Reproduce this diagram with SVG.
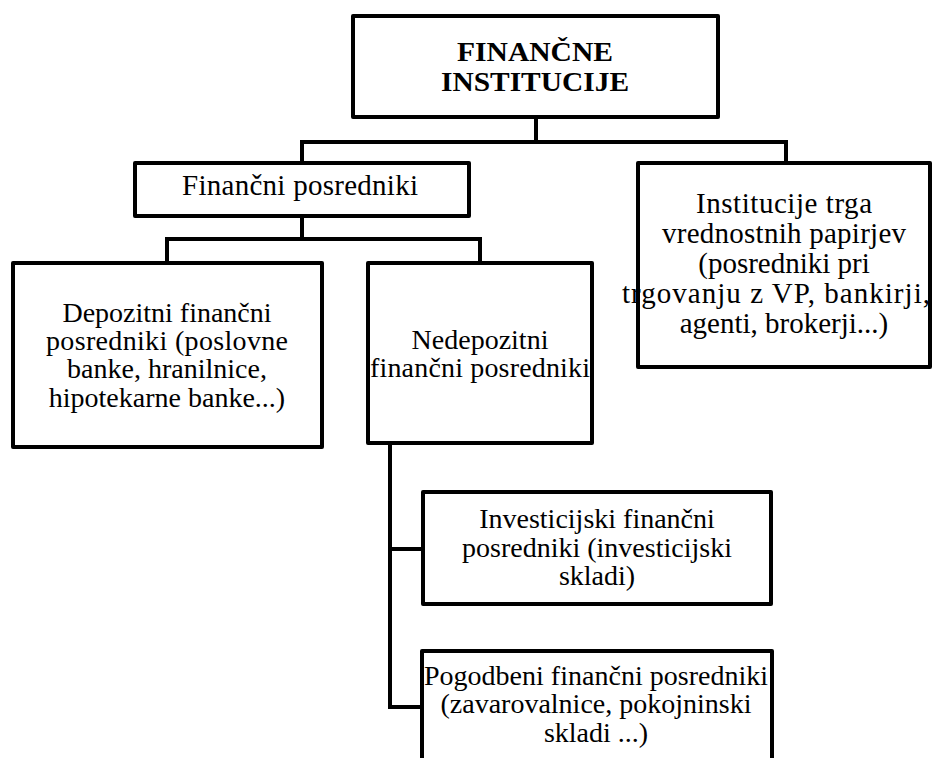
<svg xmlns="http://www.w3.org/2000/svg" width="932" height="758" viewBox="0 0 932 758">
<style>
.box{fill:#fff;stroke:#000;stroke-width:4;stroke-linejoin:round}
.con{fill:none;stroke:#000;stroke-width:4;stroke-linecap:square}
text{font-family:"Liberation Serif","Times New Roman",serif;fill:#000;text-anchor:middle}
.t{font-size:27px;font-weight:bold}
.m{font-size:29px}
.s{font-size:28px}
</style>
<rect width="932" height="758" fill="#fff"/>
<g id="connectors">
<path class="con" d="M536 117V142M302 142H786M302 142V163M786 142V163"/>
<path class="con" d="M302 216V239M167 239H480M167 239V263M480 239V263"/>
<path class="con" d="M390 443V707M390 549H423M390 707H422"/>
</g>
<g id="n_fin_inst">
<rect class="box" x="353" y="16" width="365" height="101"/>
<text class="t" x="535" y="61" textLength="156" lengthAdjust="spacingAndGlyphs">FINANČNE</text>
<text class="t" x="535" y="91" textLength="188" lengthAdjust="spacingAndGlyphs">INSTITUCIJE</text>
</g>
<g id="n_fin_posr">
<rect class="box" x="135" y="163" width="334" height="53"/>
<text class="m" x="300" y="195" textLength="236">Finančni posredniki</text>
</g>
<g id="n_trg">
<rect class="box" x="638" y="163" width="292" height="204"/>
<text class="m" x="784" y="213" textLength="176">Institucije trga</text>
<text class="m" x="784" y="243" textLength="244">vrednostnih papirjev</text>
<text class="m" x="784" y="273">(posredniki pri</text>
<text class="m" x="776" y="303" textLength="308">trgovanju z VP, bankirji,</text>
<text class="m" x="784" y="333">agenti, brokerji...)</text>
</g>
<g id="n_depo">
<rect class="box" x="13" y="263" width="309" height="184"/>
<text class="s" x="167" y="322">Depozitni finančni</text>
<text class="s" x="167" y="350" textLength="242">posredniki (poslovne</text>
<text class="s" x="167" y="378">banke, hranilnice,</text>
<text class="s" x="167" y="407">hipotekarne banke...)</text>
</g>
<g id="n_nedepo">
<rect class="box" x="368" y="263" width="224" height="180"/>
<text class="s" x="480" y="349">Nedepozitni</text>
<text class="s" x="480" y="377" textLength="220">finančni posredniki</text>
</g>
<g id="n_invest">
<rect class="box" x="423" y="492" width="348" height="112"/>
<text class="s" x="597" y="528">Investicijski finančni</text>
<text class="s" x="597" y="557">posredniki (investicijski</text>
<text class="s" x="597" y="585">skladi)</text>
</g>
<g id="n_pogod">
<rect class="box" x="422" y="651" width="350" height="130"/>
<text class="s" x="596" y="685" textLength="344">Pogodbeni finančni posredniki</text>
<text class="s" x="596" y="713">(zavarovalnice, pokojninski</text>
<text class="s" x="596" y="742">skladi ...)</text>
</g>
</svg>
